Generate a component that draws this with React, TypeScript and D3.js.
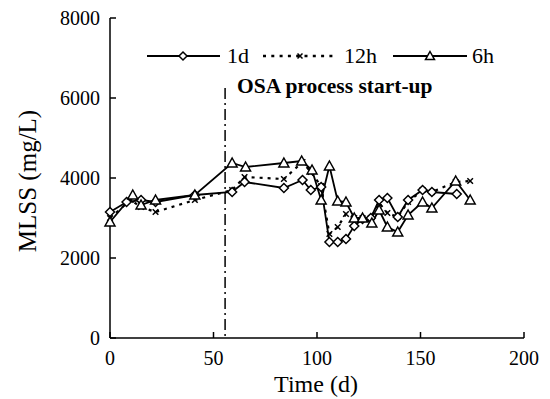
import React from "react";
import * as d3 from "d3";

const xTicks = [0, 50, 100, 150, 200];
const yTicks = [0, 2000, 4000, 6000, 8000];

const days1d = [0, 8, 15, 22, 41, 59, 65, 84, 93, 97, 102, 106, 110, 114, 118, 122, 126, 130, 134, 139, 144, 151, 155.5, 167.5];
const mlss1d = [3150, 3400, 3450, 3400, 3575, 3650, 3900, 3750, 3950, 3700, 3775, 2400, 2400, 2475, 2800, 2975, 3000, 3450, 3500, 3025, 3450, 3700, 3650, 3600];

const days12h = [0, 10, 15, 22, 41, 59, 65, 84, 93, 97, 102, 106, 110, 114, 118, 122, 126, 130, 134, 139, 144, 151, 155.5, 167, 174];
const mlss12h = [3000, 3450, 3275, 3150, 3450, 3700, 4025, 3975, 4400, 4150, 3800, 2600, 2775, 3100, 3000, 3000, 3000, 3375, 3125, 3025, 3400, 3700, 3650, 3900, 3925];

const days6h = [0, 11, 15, 22, 41, 59, 65.5, 84, 92.6, 97.6, 102, 106, 110, 114, 118, 122, 126.5, 130, 134, 139, 144, 151, 155.5, 167, 174];
const mlss6h = [2900, 3575, 3325, 3450, 3575, 4375, 4275, 4375, 4425, 4200, 3450, 4300, 3425, 3400, 3000, 3000, 2875, 3200, 2775, 2650, 3075, 3400, 3250, 3925, 3450];

const seriesNames = ["1d", "12h", "6h"];
const startupDay = 55.6;
const annotation = "OSA process start-up";

const W = 550, H = 399;
const x = d3.scaleLinear().domain([0, 200]).range([110, 524]);
const y = d3.scaleLinear().domain([0, 8000]).range([338, 18]);

const font = "'Liberation Serif', 'Times New Roman', serif";

type Pt = [number, number];
const zip = (a: number[], b: number[]): Pt[] => a.map((d, i) => [d, b[i]]);

const line = d3.line<Pt>().x(d => x(d[0])).y(d => y(d[1]));

function Diamond({ cx, cy, r = 4.5 }: { cx: number; cy: number; r?: number }) {
  return <path d={`M${cx},${cy - r}L${cx + r},${cy}L${cx},${cy + r}L${cx - r},${cy}Z`} fill="white" stroke="black" strokeWidth={1.5} />;
}
function Tri({ cx, cy, r = 5 }: { cx: number; cy: number; r?: number }) {
  return <path d={`M${cx},${cy - r}L${cx + r},${cy + r * 0.8}L${cx - r},${cy + r * 0.8}Z`} fill="white" stroke="black" strokeWidth={1.5} />;
}
function Cross({ cx, cy, r = 2.8 }: { cx: number; cy: number; r?: number }) {
  return <path d={`M${cx - r},${cy - r}L${cx + r},${cy + r}M${cx + r},${cy - r}L${cx - r},${cy + r}`} stroke="black" strokeWidth={1.5} />;
}

export default function App() {
  const s1 = zip(days1d, mlss1d);
  const s2 = zip(days12h, mlss12h);
  const s3 = zip(days6h, mlss6h);
  return (
    <svg width={W} height={H} style={{ position: "absolute", left: 0, top: 0 }} fontFamily={font}>
      <rect width={W} height={H} fill="white" />
      {/* axes */}
      <line x1={x(0)} x2={x(200)} y1={y(0)} y2={y(0)} stroke="black" strokeWidth={1.5} />
      <line x1={x(0)} x2={x(0)} y1={y(0)} y2={y(8000)} stroke="black" strokeWidth={1.5} />
      {xTicks.map(t => (
        <g key={"x" + t}>
          <line x1={x(t)} x2={x(t)} y1={y(0)} y2={y(0) - 6} stroke="black" strokeWidth={1.5} />
          <text x={x(t)} y={365} fontSize={20} textAnchor="middle">{t}</text>
        </g>
      ))}
      {yTicks.map(t => (
        <g key={"y" + t}>
          <line x1={x(0)} x2={x(0) + 6} y1={y(t)} y2={y(t)} stroke="black" strokeWidth={1.5} />
          <text x={100} y={y(t) + 7} fontSize={20} textAnchor="end">{t}</text>
        </g>
      ))}
      <text x={316} y={392} fontSize={24} textAnchor="middle">Time (d)</text>
      <text transform={`translate(36,181) rotate(-90)`} fontSize={25} textAnchor="middle">MLSS (mg/L)</text>

      {/* start-up line */}
      <line x1={x(startupDay)} x2={x(startupDay)} y1={88} y2={y(0)} stroke="black" strokeWidth={1.5} strokeDasharray="11,4,2,4" />
      <text x={237} y={93} fontSize={21.5} fontWeight="bold">{annotation}</text>

      {/* series */}
      <path d={line(s2) || ""} fill="none" stroke="black" strokeWidth={2.2} strokeDasharray="3,5" />
      <path d={line(s1) || ""} fill="none" stroke="black" strokeWidth={1.8} />
      <path d={line(s3) || ""} fill="none" stroke="black" strokeWidth={1.8} />
      {s2.map((d, i) => <Cross key={"c" + i} cx={x(d[0])} cy={y(d[1])} />)}
      {s1.map((d, i) => <Diamond key={"d" + i} cx={x(d[0])} cy={y(d[1])} />)}
      {s3.map((d, i) => <Tri key={"t" + i} cx={x(d[0])} cy={y(d[1])} />)}

      {/* legend */}
      <line x1={147} x2={220} y1={56} y2={56} stroke="black" strokeWidth={1.8} />
      <Diamond cx={183} cy={56} r={4} />
      <text x={227} y={63} fontSize={22}>{seriesNames[0]}</text>
      <line x1={263} x2={337} y1={56} y2={56} stroke="black" strokeWidth={2.5} strokeDasharray="3,5.3" />
      <Cross cx={300} cy={56} r={2.5} />
      <text x={344} y={63} fontSize={22}>{seriesNames[1]}</text>
      <line x1={393} x2={467} y1={56} y2={56} stroke="black" strokeWidth={1.8} />
      <Tri cx={430} cy={56} r={4.5} />
      <text x={472} y={63} fontSize={22}>{seriesNames[2]}</text>
    </svg>
  );
}
